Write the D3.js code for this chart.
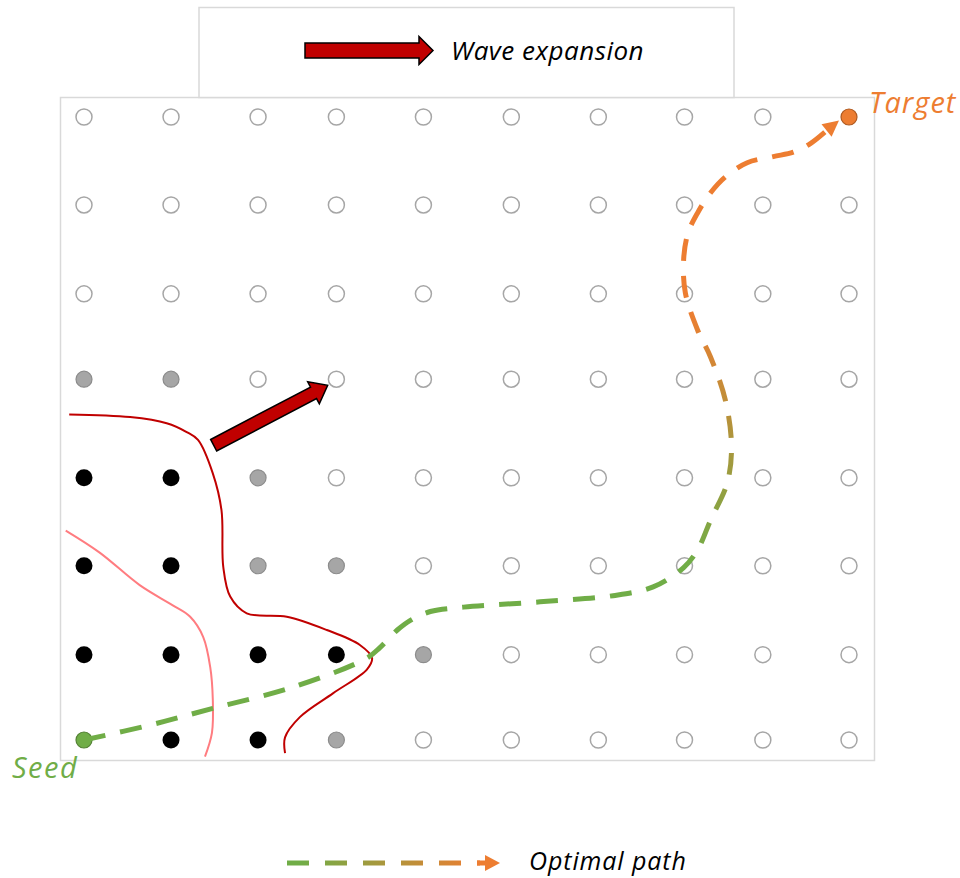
<!DOCTYPE html>
<html>
<head>
<meta charset="utf-8">
<script src="https://cdn.jsdelivr.net/npm/d3@7"></script>
<style>
  html, body { margin: 0; padding: 0; background: #fff; }
  svg { display: block; }
  text { font-family: "Open Sans", "Noto Sans", sans-serif; font-style: italic; }
</style>
</head>
<body>
<svg id="chart" width="960" height="878"></svg>
<script>
/* ---------- data (grid units) ---------- */

// column / row centres in grid units (spacing is slightly uneven in the source)
const colPos = [0, 1, 2, 2.9, 3.9, 4.91, 5.91, 6.9, 7.8, 8.79];
const rowPos = [0, 0.97, 1.98, 2.98, 4.1, 5.07, 6.08, 7.08];

// node state per row, bottom row first: s=seed, t=target, b=visited, g=front, o=unvisited
const nodeRows = [
  'sbbgoooooo',
  'bbbbgooooo',
  'bbggoooooo',
  'bbgooooooo',
  'ggoooooooo',
  'oooooooooo',
  'oooooooooo',
  'ooooooooot'
];

// current wave front (dark red) and previous front (light red)
const frontNow = [
  [-0.17, 3.70], [0.53, 3.67], [0.95, 3.60], [1.18, 3.50], [1.31, 3.41],
  [1.48, 3.03], [1.58, 2.61], [1.60, 1.97], [1.68, 1.63], [1.87, 1.44],
  [2.33, 1.40], [2.79, 1.25], [3.17, 1.08], [3.31, 0.93], [3.25, 0.80],
  [2.86, 0.53], [2.48, 0.26], [2.31, 0.03], [2.31, -0.15]
];
const frontPrev = [
  [-0.21, 2.38], [0.18, 2.13], [0.64, 1.76], [1.02, 1.53], [1.22, 1.40],
  [1.37, 1.17], [1.45, 0.83], [1.48, 0.46], [1.47, 0.08], [1.39, -0.19]
];

// optimal path from seed to target
const optimalPath = [
  [0, 0], [0.76, 0.17], [1.48, 0.36], [2.40, 0.60], [3.25, 0.93],
  [3.40, 1.05], [3.60, 1.25], [3.75, 1.36], [3.98, 1.46], [4.36, 1.51],
  [5.24, 1.57], [6.08, 1.64], [6.54, 1.74], [6.89, 1.96], [7.05, 2.16],
  [7.20, 2.50], [7.39, 2.92], [7.44, 3.33], [7.37, 3.86], [7.20, 4.35],
  [7.05, 4.66], [6.91, 5.08], [6.89, 5.46], [6.94, 5.76], [7.05, 5.99],
  [7.20, 6.22], [7.37, 6.40], [7.62, 6.56], [7.92, 6.63], [8.15, 6.68],
  [8.35, 6.78], [8.55, 6.94]
];

// wave expansion arrow on the grid: tail -> tip
const waveArrow = [[1.49, 3.35], [2.80, 4.03]];

const legendLabels = ['Wave expansion', 'Optimal path'];
const seedLabel = 'Seed';
const targetLabel = 'Target';

/* ---------- styles ---------- */

const GREEN = '#70ad47', ORANGE = '#ed7d31', DARKRED = '#c00000';
const nodeStyle = {
  o: { r: 8, fill: '#fff', stroke: '#a6a6a6', sw: 1.5 },
  g: { r: 8, fill: '#a6a6a6', stroke: '#8c8c8c', sw: 1.2 },
  b: { r: 8.5, fill: '#000', stroke: 'none', sw: 0 },
  s: { r: 8, fill: GREEN, stroke: '#548235', sw: 1.2 },
  t: { r: 8, fill: ORANGE, stroke: '#ae5a21', sw: 1.2 }
};

/* ---------- layout ---------- */

const svg = d3.select('#chart');
const x = d3.scaleLinear().domain([0, 8.79]).range([84, 849]);
const y = d3.scaleLinear().domain([0, 7.08]).range([740, 117]);

const defs = svg.append('defs');

// gradient for the path: green along the bottom, orange near the target
const pg = defs.append('linearGradient')
  .attr('id', 'pathGrad')
  .attr('gradientUnits', 'userSpaceOnUse')
  .attr('x1', 0).attr('x2', 0)
  .attr('y1', y(2.0)).attr('y2', y(4.9));
pg.append('stop').attr('offset', 0).attr('stop-color', GREEN);
pg.append('stop').attr('offset', 1).attr('stop-color', ORANGE);

const lg = defs.append('linearGradient')
  .attr('id', 'legendGrad')
  .attr('gradientUnits', 'userSpaceOnUse')
  .attr('x1', 300).attr('x2', 480).attr('y1', 0).attr('y2', 0);
lg.append('stop').attr('offset', 0).attr('stop-color', GREEN);
lg.append('stop').attr('offset', 1).attr('stop-color', ORANGE);

// frames
svg.append('rect')
  .attr('x', 60.5).attr('y', 97.5).attr('width', 814).attr('height', 663)
  .attr('fill', '#fff').attr('stroke', '#d9d9d9').attr('stroke-width', 1.5);
svg.append('rect')
  .attr('x', 199).attr('y', 7.5).attr('width', 535).attr('height', 90)
  .attr('fill', '#fff').attr('stroke', '#d9d9d9').attr('stroke-width', 1.5);

// block arrow polygon along +x, length L, body width bw, head width hw, head length hl
function blockArrow(L, bw, hw, hl) {
  return [
    [0, -bw / 2], [L - hl, -bw / 2], [L - hl, -hw / 2], [L, 0],
    [L - hl, hw / 2], [L - hl, bw / 2], [0, bw / 2]
  ];
}

/* ---------- nodes ---------- */

const nodes = [];
nodeRows.forEach((row, ri) => {
  row.split('').forEach((s, ci) => nodes.push({ ci, ri, s }));
});

svg.append('g').attr('class', 'nodes')
  .selectAll('circle')
  .data(nodes)
  .join('circle')
  .attr('cx', d => x(colPos[d.ci]))
  .attr('cy', d => y(rowPos[d.ri]))
  .attr('r', d => nodeStyle[d.s].r)
  .attr('fill', d => nodeStyle[d.s].fill)
  .attr('stroke', d => nodeStyle[d.s].stroke)
  .attr('stroke-width', d => nodeStyle[d.s].sw);

/* ---------- wave fronts ---------- */

const smooth = d3.line()
  .x(d => x(d[0]))
  .y(d => y(d[1]))
  .curve(d3.curveCatmullRom.alpha(0.5));

svg.append('path')
  .attr('d', smooth(frontPrev))
  .attr('fill', 'none').attr('stroke', '#ff7c80').attr('stroke-width', 2);

svg.append('path')
  .attr('d', smooth(frontNow))
  .attr('fill', 'none').attr('stroke', DARKRED).attr('stroke-width', 2);

/* ---------- optimal path ---------- */

svg.append('path')
  .attr('d', smooth(optimalPath))
  .attr('fill', 'none')
  .attr('stroke', 'url(#pathGrad)')
  .attr('stroke-width', 5)
  .attr('stroke-dasharray', '22 15');

// arrow head at the end of the path, oriented along the last segment
(function () {
  const a = optimalPath[optimalPath.length - 2];
  const b = optimalPath[optimalPath.length - 1];
  const x0 = x(a[0]), y0 = y(a[1]), x1 = x(b[0]), y1 = y(b[1]);
  const ang = Math.atan2(y1 - y0, x1 - x0) * 180 / Math.PI;
  svg.append('path')
    .attr('d', 'M-2,-8L14,0L-2,8Z')
    .attr('fill', ORANGE)
    .attr('transform', `translate(${x1},${y1}) rotate(${ang})`);
})();

/* ---------- wave expansion arrow on grid ---------- */

(function () {
  const [t0, t1] = waveArrow;
  const ax0 = x(t0[0]), ay0 = y(t0[1]), ax1 = x(t1[0]), ay1 = y(t1[1]);
  const L = Math.hypot(ax1 - ax0, ay1 - ay0);
  const ang = Math.atan2(ay1 - ay0, ax1 - ax0) * 180 / Math.PI;
  svg.append('polygon')
    .attr('points', blockArrow(L, 13, 25, 16).map(p => p.join(',')).join(' '))
    .attr('fill', DARKRED).attr('stroke', '#000').attr('stroke-width', 1.5)
    .attr('stroke-linejoin', 'miter')
    .attr('transform', `translate(${ax0},${ay0}) rotate(${ang})`);
})();

/* ---------- labels ---------- */

svg.append('text')
  .attr('x', 12).attr('y', 778)
  .attr('font-size', 29).attr('letter-spacing', 1.5).attr('fill', GREEN)
  .text(seedLabel);

svg.append('text')
  .attr('x', 869).attr('y', 113)
  .attr('font-size', 29).attr('letter-spacing', 1).attr('fill', ORANGE)
  .text(targetLabel);

/* ---------- legends ---------- */

svg.append('polygon')
  .attr('points', blockArrow(128, 15, 28, 14).map(p => p.join(',')).join(' '))
  .attr('fill', DARKRED).attr('stroke', '#000').attr('stroke-width', 1.5)
  .attr('transform', 'translate(305,50.5)');

svg.append('text')
  .attr('x', 451).attr('y', 60)
  .attr('font-size', 26).attr('letter-spacing', 0.5).attr('fill', '#000')
  .text(legendLabels[0]);

svg.append('line')
  .attr('x1', 287).attr('x2', 480).attr('y1', 863).attr('y2', 863)
  .attr('stroke', 'url(#legendGrad)').attr('stroke-width', 5)
  .attr('stroke-dasharray', '22 16');
svg.append('path')
  .attr('d', 'M477,860.5L485,860.5L485,855L500,863L485,871L485,865.5L477,865.5Z')
  .attr('fill', ORANGE);

svg.append('text')
  .attr('x', 529).attr('y', 870)
  .attr('font-size', 25).attr('letter-spacing', 0.9).attr('fill', '#000')
  .text(legendLabels[1]);
</script>
</body>
</html>
